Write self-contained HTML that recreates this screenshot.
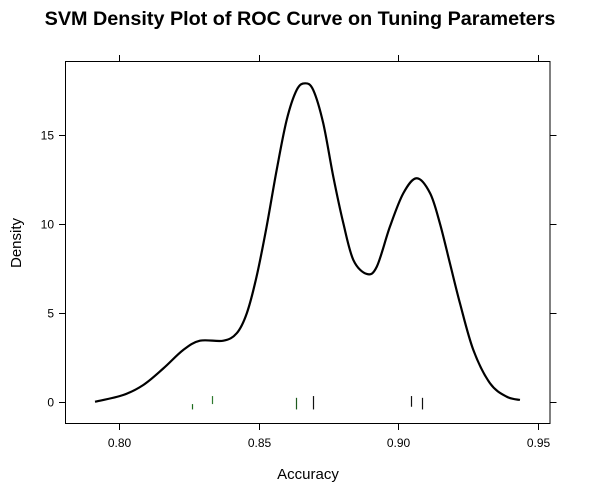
<!DOCTYPE html>
<html><head><meta charset="utf-8"><style>
body{margin:0;background:#fff;}
svg text{font-family:"Liberation Sans",Arial,sans-serif;}
</style></head><body>
<svg id="chart" width="589" height="495" xmlns="http://www.w3.org/2000/svg">
<text x="300" y="25" text-anchor="middle" font-size="19.8" font-weight="bold">SVM Density Plot of ROC Curve on Tuning Parameters</text>
<rect x="65.5" y="61.5" width="484.5" height="362" fill="none" stroke="#000" stroke-width="1"/>
<g id="axes"></g>
<g id="marks"></g>
<text x="308" y="479" text-anchor="middle" font-size="15">Accuracy</text>
<text x="21" y="243" text-anchor="middle" font-size="15" transform="rotate(-90 21 243)">Density</text>
</svg>
<script>
const xTicks=[0.80,0.85,0.90,0.95];
const xTickLabels=["0.80","0.85","0.90","0.95"];
const yTicks=[0,5,10,15];
const yTickLabels=["0","5","10","15"];
const densX=[0.7913,0.8014,0.8086,0.8158,0.8229,0.8289,0.8373,0.8421,0.8457,0.8492,0.8528,0.8564,0.8600,0.8636,0.8666,0.8695,0.8731,0.8767,0.8803,0.8839,0.8887,0.8923,0.8970,0.9018,0.9066,0.9114,0.9149,0.9185,0.9221,0.9269,0.9329,0.9389,0.9436];
const densY=[0.03,0.41,0.97,1.90,2.93,3.45,3.45,3.87,4.99,7.04,9.84,13.01,15.82,17.50,17.87,17.50,15.63,12.64,10.03,7.97,7.19,7.60,9.84,11.71,12.55,11.71,10.03,7.79,5.55,2.93,1.06,0.31,0.13];
const rugX=[0.8260,0.8331,0.8633,0.8693,0.9044,0.9086];
const rugTop=[-0.1,0.35,0.25,0.35,0.35,0.25];
const rugBot=[-0.4,-0.1,-0.4,-0.4,-0.25,-0.4];
const rugColor=["#1d6b1d","#2f7a2f","#1d5a1d","#111","#111","#111"];
const NS="http://www.w3.org/2000/svg";
const X=v=>119.3+(v-0.8)*2790;
const Y=v=>402.3-v*17.85;
const axes=document.getElementById('axes'), marks=document.getElementById('marks');
function mk(tag,attrs,parent){const e=document.createElementNS(NS,tag);for(const k in attrs)e.setAttribute(k,attrs[k]);parent.appendChild(e);return e;}
xTicks.forEach((t,i)=>{
  const x=Math.round(X(t))+0.5;
  const a=mk('line',{x1:x,x2:x,y1:423.5,y2:430,stroke:'#000'},axes);
  
  
  const b=mk('line',{x1:x,x2:x,y1:61.5,y2:55,stroke:'#000'},axes);
  
  
  const l=mk('text',{x:x,y:447,'text-anchor':'middle','font-size':12},axes);
  l.textContent=xTickLabels[i];
  
  
});
yTicks.forEach((t,i)=>{
  const y=Math.round(Y(t))+0.5;
  const a=mk('line',{x1:59,x2:65.5,y1:y,y2:y,stroke:'#000'},axes);
  
  
  const b=mk('line',{x1:550,x2:556.5,y1:y,y2:y,stroke:'#000'},axes);
  
  
  const l=mk('text',{x:54,y:y+4,'text-anchor':'end','font-size':12},axes);
  l.textContent=yTickLabels[i];
  
  
});
const pts=densX.map((v,i)=>[X(v),Y(densY[i])]);
let d='M'+pts[0][0]+','+pts[0][1];
for(let i=0;i<pts.length-1;i++){
  const p0=pts[Math.max(0,i-1)],p1=pts[i],p2=pts[i+1],p3=pts[Math.min(pts.length-1,i+2)];
  const c1=[p1[0]+(p2[0]-p0[0])/6,p1[1]+(p2[1]-p0[1])/6];
  const c2=[p2[0]-(p3[0]-p1[0])/6,p2[1]-(p3[1]-p1[1])/6];
  d+=`C${c1[0]},${c1[1]} ${c2[0]},${c2[1]} ${p2[0]},${p2[1]}`;
}
const path=mk('path',{d:d,fill:'none',stroke:'#000','stroke-width':2.2},marks);


rugX.forEach((v,i)=>{
  const x=Math.round(X(v))+0.5;
  const r=mk('line',{x1:x,x2:x,y1:Y(rugTop[i]),y2:Y(rugBot[i]),stroke:rugColor[i],'stroke-width':1.2},marks);
  
  
});
</script>
</body></html>
